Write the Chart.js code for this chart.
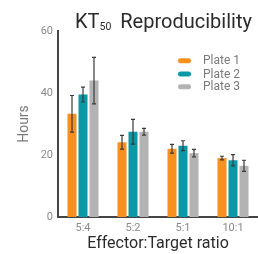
<!DOCTYPE html>
<html><head><meta charset="utf-8">
<script src="https://cdn.jsdelivr.net/npm/chart.js@4.4.1/dist/chart.umd.min.js"></script>
<style>html,body{margin:0;padding:0;background:#fff;}#c{display:block;}</style>
</head><body>
<canvas id="c" width="258" height="254"></canvas>
<script>
const categories = ["5:4", "5:2", "5:1", "10:1"];
const seriesNames = ["Plate 1", "Plate 2", "Plate 3"];
const plate1 = [33.3, 24.1, 22.0, 19.0];
const plate2 = [39.5, 27.5, 23.0, 18.3];
const plate3 = [44.0, 27.5, 20.6, 16.5];
const plate1Err = [5.9, 2.2, 1.4, 0.6];
const plate2Err = [2.4, 4.0, 1.6, 1.8];
const plate3Err = [7.5, 1.1, 1.2, 1.8];
const yTicks = [0, 20, 40, 60];
const colors = ["#F7901E", "#0A97A6", "#B3B3B3"];

const FONT = "Roboto, 'Open Sans', sans-serif";
const values = [plate1, plate2, plate3];
const errors = [plate1Err, plate2Err, plate3Err];

const errorBars = {
  id: 'errorBars',
  afterDatasetsDraw(chart) {
    const ctx = chart.ctx, ys = chart.scales.y;
    ctx.save();
    ctx.strokeStyle = '#3a3a3a';
    ctx.lineWidth = 1.2;
    chart.data.datasets.forEach((ds, di) => {
      const meta = chart.getDatasetMeta(di);
      meta.data.forEach((bar, i) => {
        const v = ds.data[i], e = errors[di][i];
        const y1 = ys.getPixelForValue(v + e), y2 = ys.getPixelForValue(v - e);
        const x = bar.x, cw = 2;
        ctx.beginPath();
        ctx.moveTo(x, y1); ctx.lineTo(x, y2);
        ctx.moveTo(x - cw, y1); ctx.lineTo(x + cw, y1);
        ctx.moveTo(x - cw, y2); ctx.lineTo(x + cw, y2);
        ctx.stroke();
      });
    });
    ctx.restore();
  }
};

const titleLegend = {
  id: 'titleLegend',
  afterDraw(chart) {
    const ctx = chart.ctx;
    ctx.save();
    ctx.fillStyle = '#2b2b2b';
    ctx.textBaseline = 'alphabetic';
    ctx.textAlign = 'left';
    let x = 75, y = 28;
    ctx.font = "20px " + FONT;
    ctx.fillText("KT", x, y);
    x += ctx.measureText("KT").width;
    ctx.font = "10.5px " + FONT;
    ctx.fillText("50", x, y + 2);
    x += ctx.measureText("50").width + 9;
    ctx.font = "20px " + FONT;
    ctx.fillText("Reproducibility", x, y);
    // legend
    const rows = [60.7, 74, 86.7];
    chart.data.datasets.forEach((ds, i) => {
      ctx.fillStyle = ds.backgroundColor;
      const sy = rows[i];
      ctx.beginPath();
      ctx.roundRect(178, sy - 2.5, 13, 5, 2.5);
      ctx.fill();
      ctx.fillStyle = '#7a7a7a';
      ctx.font = "12px " + FONT;
      ctx.textBaseline = 'middle';
      ctx.fillText(ds.label, 203, sy + 0.5);
    });
    ctx.restore();
  }
};

new Chart(document.getElementById('c'), {
  type: 'bar',
  data: {
    labels: categories,
    datasets: seriesNames.map((n, i) => ({
      label: n, data: values[i], backgroundColor: colors[i],
      categoryPercentage: 0.66, barPercentage: 0.82
    }))
  },
  options: {
    responsive: false,
    animation: false,
    devicePixelRatio: 1,
    layout: { padding: { top: 31, right: 0, left: 16, bottom: 0 } },
    plugins: { legend: { display: false }, title: { display: false }, tooltip: { enabled: false } },
    scales: {
      x: {
        grid: { display: false, drawTicks: false },
        border: { display: true, color: '#444', width: 2 },
        ticks: { color: '#8a8a8a', font: { size: 11, family: FONT }, padding: 5 },
        title: { display: true, text: 'Effector:Target ratio', color: '#2b2b2b', font: { size: 16, family: FONT }, padding: { top: 1, bottom: 0 } },
        afterFit(s) { s.height = 37; }
      },
      y: {
        min: 0, max: 60,
        grid: { display: false, drawTicks: false },
        border: { display: true, color: '#444', width: 2 },
        afterBuildTicks(s) { s.ticks = yTicks.map(v => ({ value: v })); },
        ticks: { color: '#8a8a8a', font: { size: 11, family: FONT }, padding: 5 },
        title: { display: true, text: 'Hours', color: '#7a7a7a', font: { size: 14, family: FONT }, padding: { top: 0, bottom: 8 } },
        afterFit(s) { s.width = 42; }
      }
    }
  },
  plugins: [errorBars, titleLegend]
});
</script>
</body></html>
